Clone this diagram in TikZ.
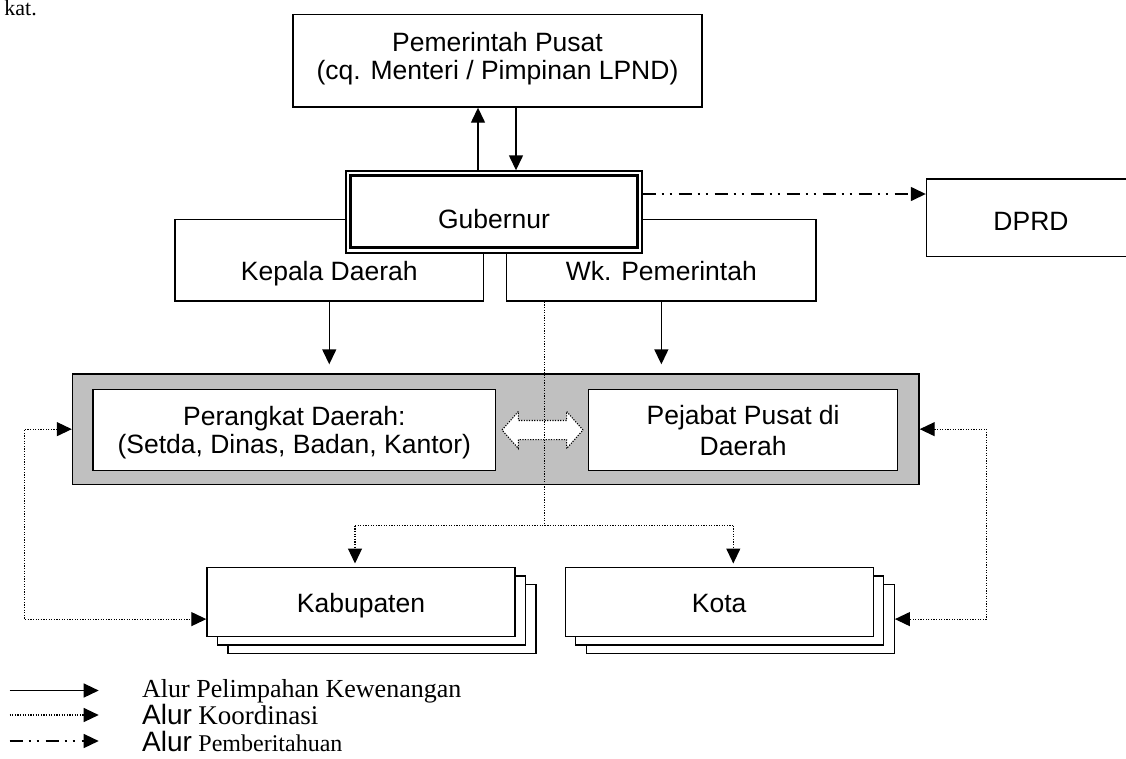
\documentclass[tikz,border=0pt]{standalone}
\usepackage{fontspec}
\setmainfont{Liberation Serif}
\setsansfont{Liberation Sans}
\usetikzlibrary{arrows.meta,shapes.arrows,calc}
\begin{document}
\begin{tikzpicture}[x=1pt,y=-1pt,
  bx/.style={draw=black, line width=1.4pt, fill=white, inner sep=0pt},
  lbl/.style={font=\sffamily\fontsize{26.5}{30}\selectfont, inner sep=0pt, anchor=base},
  solidarr/.style={line width=1.4pt, -{Triangle[length=15pt,width=14pt]}},
  dotline/.style={line width=1.2pt, dash pattern=on 1.2pt off 1.4pt},
  dotarr/.style={dotline, -{Triangle[length=15pt,width=14pt]}},
  dotdbl/.style={dotline, {Triangle[length=15pt,width=14pt]}-{Triangle[length=15pt,width=14pt]}},
  dasharr/.style={line width=1.4pt, dash pattern=on 13pt off 6pt on 2pt off 6pt on 2pt off 7pt, -{Triangle[length=15pt,width=14pt]}},
  legtxt/.style={font=\rmfamily\fontsize{26}{30}\selectfont, inner sep=0pt, anchor=base west}
]
\useasboundingbox (0,0) rectangle (1126,758);
\clip (0,0) rectangle (1126,758);

% page fragment
\node[font=\rmfamily\fontsize{22}{26}\selectfont, inner sep=0pt, anchor=base east] (kat) at (37,15.5) {kat.};

% top
\node[bx, minimum width=409pt, minimum height=92.7pt] (pem) at (497.5,60.65) {};
\node[lbl] (pem1) at (497.5,51) {Pemerintah Pusat};
\node[lbl] (pem2) at (497.5,79) {(cq. Menteri / Pimpinan LPND)};

% Kepala Daerah / Wk. Pemerintah
\node[bx, minimum width=308.5pt, minimum height=81.5pt] (kd) at (329.25,260.25) {};
\node[lbl] (kdt) at (329.25,280) {Kepala Daerah};
\node[bx, minimum width=309.3pt, minimum height=81.5pt] (wk) at (661.35,260.25) {};
\node[lbl] (wkt) at (661.35,280) {Wk. Pemerintah};

% Gubernur (double frame)
\node[bx, minimum width=296pt, minimum height=82pt] (gub) at (494,212) {};
\draw[line width=2.6pt] ($(gub.north west)+(5,5)$) rectangle ($(gub.south east)+(-5,-6)$);
\node[lbl] (gubt) at (494,228.3) {Gubernur};

% DPRD
\node[bx, minimum width=208.5pt, minimum height=77.3pt] (dprd) at (1030.75,217.65) {};
\node[lbl] (dprdt) at (1031,230) {DPRD};

% arrows top
\draw[solidarr] ($(gub.north)+(-16,0)$) -- ($(pem.south)+(-19.5,0)$);
\draw[solidarr] ($(pem.south)+(18.5,0)$) -- ($(gub.north)+(22,0)$);
\coordinate (da) at ($(gub.east)+(0,-18)$);
\draw[dasharr] (da) -- (da -| dprd.west);

% gray container
\node[draw=black, line width=1.4pt, fill={rgb,255:red,192;green,192;blue,192}, inner sep=0pt,
      minimum width=846.5pt, minimum height=110.3pt] (gray) at (495.75,429.15) {};
\node[bx, minimum width=402.7pt, minimum height=81.4pt] (pd) at (294.35,430) {};
\node[lbl] (pd1) at (294.35,425.5) {Perangkat Daerah:};
\node[lbl] (pd2) at (294.35,453) {(Setda, Dinas, Badan, Kantor)};
\node[bx, minimum width=309.1pt, minimum height=81.4pt] (pj) at (743.15,430) {};
\node[lbl] (pj1) at (743.15,424.5) {Pejabat Pusat di};
\node[lbl] (pj2) at (743.15,455) {Daerah};
\node[double arrow, draw=black, line width=1.1pt, dash pattern=on 1.2pt off 1.4pt, fill=white,
      minimum height=81pt, inner xsep=0pt, inner ysep=9pt, double arrow head extend=9pt,
      double arrow tip angle=97] (dbl) at (542.5,430) {};

% down arrows into gray box
\draw[solidarr, shorten >=9pt] (kd.south) -- (kd.south |- gray.north);
\draw[solidarr, shorten >=9pt] (wk.south) -- (wk.south |- gray.north);

% stacks
\node[bx, minimum width=308pt, minimum height=69pt] (kab3) at (382,619.1) {};
\node[bx, minimum width=308pt, minimum height=69pt] (kab2) at (371.5,610.4) {};
\node[bx, minimum width=308pt, minimum height=69pt] (kab) at (361,601.7) {};
\node[lbl] (kabt) at (361,612.7) {Kabupaten};
\node[bx, minimum width=308pt, minimum height=69pt] (kota3) at (740.2,619.1) {};
\node[bx, minimum width=308pt, minimum height=69pt] (kota2) at (729.7,610.4) {};
\node[bx, minimum width=308pt, minimum height=69pt] (kota) at (719.2,601.7) {};
\node[lbl] (kotat) at (719.2,612.7) {Kota};

% coordination lines
\coordinate (jm) at (544.5,525.7);
\coordinate (jl) at (355,525.7);
\coordinate (jr) at (733.3,525.7);
\draw[dotline] (wk.south -| jm) -- (jm);
\draw[dotline] (jl) -- (jr);
\draw[dotarr, shorten >=3pt] (jl) -- (jl |- kab.north);
\draw[dotarr, shorten >=3pt] (jr) -- (jr |- kota.north);
\coordinate (kw) at (kab.west |- kab3.center);
\draw[dotdbl] (gray.west) -- ++(-47.5,0) |- (kw);
\draw[dotdbl] (gray.east) -- ++(66.7,0) |- (kota3.east);

% legend
\coordinate (l1a) at (9.6,690.5);  \coordinate (l1b) at (98.7,690.5);
\coordinate (l2a) at (9.6,715);  \coordinate (l2b) at (98.7,715);
\coordinate (l3a) at (9.6,741);  \coordinate (l3b) at (98.7,741);
\draw[solidarr] (l1a) -- (l1b);
\draw[dotarr] (l2a) -- (l2b);
\draw[dasharr] (l3a) -- (l3b);
\node[legtxt] (lg1) at (142,697) {Alur Pelimpahan Kewenangan};
\node[legtxt] (lg2) at (142,724.5) {{\sffamily\fontsize{28}{30}\selectfont Alur} {\fontsize{27}{30}\selectfont Koordinasi}};
\node[legtxt] (lg3) at (142,751.5) {{\sffamily\fontsize{28}{30}\selectfont Alur} {\fontsize{24}{30}\selectfont Pemberitahuan}};
\end{tikzpicture}
\end{document}
